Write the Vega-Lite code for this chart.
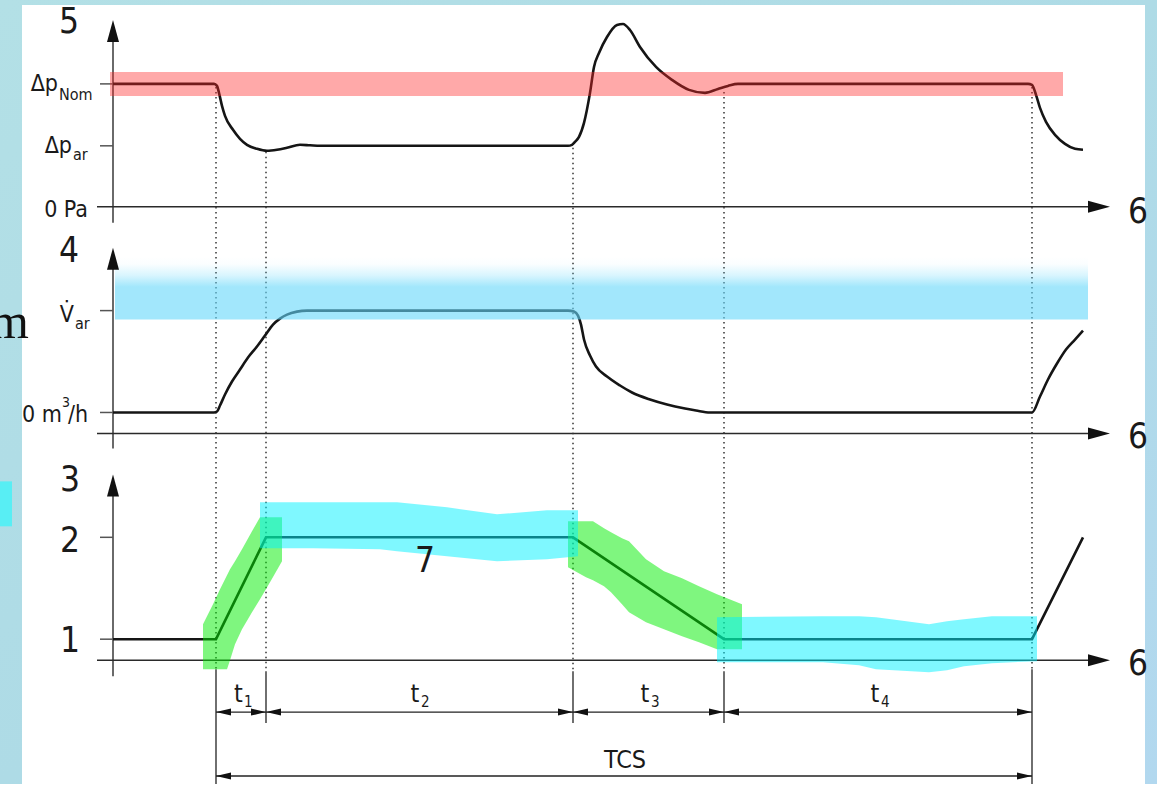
{
  "$schema": "https://vega.github.io/schema/vega-lite/v6.json",
  "width": 1157,
  "height": 785,
  "padding": 0,
  "autosize": {"type": "fit", "contains": "padding"},
  "background": "#ffffff",
  "config": {"view": {"stroke": null}},
  "datasets": {
    "bg": [{"x": 0, "y": 0, "x2": 1157, "y2": 785}],
    "panel": [{"x": 22, "y": 5, "x2": 1145, "y2": 785}],
    "cyanBox": [{"x": 0, "y": 482, "x2": 12, "y2": 527}],
    "mText": [{"x": 29, "y": 338, "t": "m"}],
    "vaxes": [
      {"x": 113, "y": 40, "x2": 113, "y2": 223},
      {"x": 113, "y": 268, "x2": 113, "y2": 449},
      {"x": 113, "y": 495, "x2": 113, "y2": 677}
    ],
    "haxes": [
      {"x": 97, "y": 207, "x2": 1092, "y2": 207},
      {"x": 97, "y": 434, "x2": 1092, "y2": 434},
      {"x": 97, "y": 661, "x2": 1092, "y2": 661}
    ],
    "ticks": [
      {"x": 100, "y": 84, "x2": 113, "y2": 84},
      {"x": 100, "y": 146, "x2": 113, "y2": 146},
      {"x": 100, "y": 311, "x2": 113, "y2": 311},
      {"x": 100, "y": 413, "x2": 113, "y2": 413},
      {"x": 100, "y": 538, "x2": 113, "y2": 538},
      {"x": 100, "y": 640, "x2": 113, "y2": 640}
    ],
    "dots": [
      {"x": 216, "y": 87, "x2": 216, "y2": 670},
      {"x": 266, "y": 152, "x2": 266, "y2": 670},
      {"x": 573, "y": 148, "x2": 573, "y2": 670},
      {"x": 724, "y": 92, "x2": 724, "y2": 670},
      {"x": 1032, "y": 87, "x2": 1032, "y2": 670}
    ],
    "dims": [
      {"x": 216, "y": 670, "x2": 216, "y2": 785},
      {"x": 266, "y": 672, "x2": 266, "y2": 724},
      {"x": 573, "y": 672, "x2": 573, "y2": 724},
      {"x": 724, "y": 672, "x2": 724, "y2": 724},
      {"x": 1032, "y": 670, "x2": 1032, "y2": 785},
      {"x": 216, "y": 713, "x2": 1032, "y2": 713},
      {"x": 216, "y": 777, "x2": 1032, "y2": 777}
    ],
    "curves": [
      {"s": "dp", "x": 113, "y": 84}, {"s": "dp", "x": 200, "y": 84}, {"s": "dp", "x": 214, "y": 84},
      {"s": "dp", "x": 217, "y": 86}, {"s": "dp", "x": 219, "y": 93}, {"s": "dp", "x": 222, "y": 106},
      {"s": "dp", "x": 225, "y": 116}, {"s": "dp", "x": 233, "y": 130}, {"s": "dp", "x": 240, "y": 139},
      {"s": "dp", "x": 247, "y": 145}, {"s": "dp", "x": 257, "y": 149}, {"s": "dp", "x": 267, "y": 151},
      {"s": "dp", "x": 277, "y": 150}, {"s": "dp", "x": 287, "y": 148}, {"s": "dp", "x": 300, "y": 145},
      {"s": "dp", "x": 310, "y": 145.5}, {"s": "dp", "x": 320, "y": 146}, {"s": "dp", "x": 400, "y": 146},
      {"s": "dp", "x": 500, "y": 146}, {"s": "dp", "x": 568, "y": 146}, {"s": "dp", "x": 572, "y": 145},
      {"s": "dp", "x": 575, "y": 142}, {"s": "dp", "x": 579, "y": 137}, {"s": "dp", "x": 584, "y": 123},
      {"s": "dp", "x": 590, "y": 93}, {"s": "dp", "x": 594, "y": 67}, {"s": "dp", "x": 599, "y": 53},
      {"s": "dp", "x": 607, "y": 37}, {"s": "dp", "x": 617, "y": 25}, {"s": "dp", "x": 623, "y": 24},
      {"s": "dp", "x": 630, "y": 30}, {"s": "dp", "x": 640, "y": 47}, {"s": "dp", "x": 656, "y": 67},
      {"s": "dp", "x": 672, "y": 80}, {"s": "dp", "x": 689, "y": 90}, {"s": "dp", "x": 705, "y": 93},
      {"s": "dp", "x": 718, "y": 89}, {"s": "dp", "x": 728, "y": 86}, {"s": "dp", "x": 738, "y": 84},
      {"s": "dp", "x": 800, "y": 84}, {"s": "dp", "x": 1028, "y": 84}, {"s": "dp", "x": 1032, "y": 85},
      {"s": "dp", "x": 1036, "y": 95}, {"s": "dp", "x": 1040, "y": 108}, {"s": "dp", "x": 1046, "y": 122},
      {"s": "dp", "x": 1055, "y": 135}, {"s": "dp", "x": 1065, "y": 144}, {"s": "dp", "x": 1075, "y": 149},
      {"s": "dp", "x": 1083, "y": 150},
      {"s": "v", "x": 113, "y": 413}, {"s": "v", "x": 214, "y": 413}, {"s": "v", "x": 217, "y": 412},
      {"s": "v", "x": 220, "y": 406}, {"s": "v", "x": 225, "y": 395}, {"s": "v", "x": 232, "y": 382},
      {"s": "v", "x": 240, "y": 370}, {"s": "v", "x": 248, "y": 358}, {"s": "v", "x": 257, "y": 347},
      {"s": "v", "x": 265, "y": 336}, {"s": "v", "x": 273, "y": 325}, {"s": "v", "x": 280, "y": 319},
      {"s": "v", "x": 287, "y": 315}, {"s": "v", "x": 297, "y": 312}, {"s": "v", "x": 307, "y": 311},
      {"s": "v", "x": 400, "y": 311}, {"s": "v", "x": 568, "y": 311}, {"s": "v", "x": 574, "y": 312},
      {"s": "v", "x": 578, "y": 316}, {"s": "v", "x": 581, "y": 325}, {"s": "v", "x": 584, "y": 340},
      {"s": "v", "x": 590, "y": 356}, {"s": "v", "x": 596, "y": 367}, {"s": "v", "x": 607, "y": 377},
      {"s": "v", "x": 620, "y": 386}, {"s": "v", "x": 632, "y": 393}, {"s": "v", "x": 650, "y": 400},
      {"s": "v", "x": 667, "y": 405}, {"s": "v", "x": 685, "y": 409}, {"s": "v", "x": 696, "y": 411},
      {"s": "v", "x": 710, "y": 413}, {"s": "v", "x": 724, "y": 413}, {"s": "v", "x": 1000, "y": 413},
      {"s": "v", "x": 1032, "y": 413}, {"s": "v", "x": 1040, "y": 397}, {"s": "v", "x": 1048, "y": 380},
      {"s": "v", "x": 1057, "y": 364}, {"s": "v", "x": 1066, "y": 350}, {"s": "v", "x": 1075, "y": 340},
      {"s": "v", "x": 1083, "y": 331}
    ],
    "steps": [
      {"s": "n", "x": 113, "y": 640}, {"s": "n", "x": 216, "y": 640}, {"s": "n", "x": 266, "y": 538},
      {"s": "n", "x": 573, "y": 538}, {"s": "n", "x": 724, "y": 640}, {"s": "n", "x": 1032, "y": 640},
      {"s": "n", "x": 1083, "y": 538}
    ],
    "red": [{"x": 110, "y": 72, "x2": 1063, "y2": 96}],
    "blue": [{"x": 115, "y": 257, "x2": 1088, "y2": 320}],
    "green": [
      {"band": "g1", "x": 203, "y": 625, "y2": 670}, {"band": "g1", "x": 213, "y": 605, "y2": 670},
      {"band": "g1", "x": 220, "y": 590, "y2": 670}, {"band": "g1", "x": 227, "y": 576, "y2": 670},
      {"band": "g1", "x": 230, "y": 570, "y2": 661}, {"band": "g1", "x": 235, "y": 562, "y2": 645},
      {"band": "g1", "x": 242, "y": 550, "y2": 630}, {"band": "g1", "x": 252, "y": 532, "y2": 613},
      {"band": "g1", "x": 260, "y": 518, "y2": 600}, {"band": "g1", "x": 270, "y": 518, "y2": 583},
      {"band": "g1", "x": 282, "y": 518, "y2": 562},
      {"band": "g2", "x": 568, "y": 522, "y2": 568}, {"band": "g2", "x": 586, "y": 522, "y2": 578},
      {"band": "g2", "x": 593, "y": 522, "y2": 581}, {"band": "g2", "x": 604, "y": 529, "y2": 587},
      {"band": "g2", "x": 611, "y": 533, "y2": 593}, {"band": "g2", "x": 622, "y": 539, "y2": 605},
      {"band": "g2", "x": 629, "y": 542, "y2": 613}, {"band": "g2", "x": 646, "y": 560, "y2": 623},
      {"band": "g2", "x": 664, "y": 572, "y2": 630}, {"band": "g2", "x": 682, "y": 579, "y2": 637},
      {"band": "g2", "x": 699, "y": 587, "y2": 643}, {"band": "g2", "x": 717, "y": 595, "y2": 650},
      {"band": "g2", "x": 742, "y": 605, "y2": 650}
    ],
    "cyan": [
      {"band": "c1", "x": 260, "y": 503, "y2": 549}, {"band": "c1", "x": 313, "y": 503, "y2": 549},
      {"band": "c1", "x": 380, "y": 503, "y2": 550}, {"band": "c1", "x": 397, "y": 503, "y2": 552},
      {"band": "c1", "x": 447, "y": 508, "y2": 557}, {"band": "c1", "x": 497, "y": 515, "y2": 562},
      {"band": "c1", "x": 547, "y": 511, "y2": 560}, {"band": "c1", "x": 578, "y": 511, "y2": 557},
      {"band": "c2", "x": 717, "y": 618, "y2": 663}, {"band": "c2", "x": 823, "y": 617, "y2": 663},
      {"band": "c2", "x": 859, "y": 617, "y2": 666}, {"band": "c2", "x": 876, "y": 618, "y2": 670},
      {"band": "c2", "x": 929, "y": 625, "y2": 673}, {"band": "c2", "x": 947, "y": 622, "y2": 671},
      {"band": "c2", "x": 964, "y": 620, "y2": 667}, {"band": "c2", "x": 992, "y": 617, "y2": 664},
      {"band": "c2", "x": 1037, "y": 617, "y2": 662}
    ],
    "arrows": [
      {"kind": "up", "x": 113, "y": 20}, {"kind": "up", "x": 113, "y": 248}, {"kind": "up", "x": 113, "y": 475},
      {"kind": "right", "x": 1110, "y": 207}, {"kind": "right", "x": 1110, "y": 434}, {"kind": "right", "x": 1110, "y": 661},
      {"kind": "dl", "x": 216, "y": 713}, {"kind": "dl", "x": 266, "y": 713}, {"kind": "dl", "x": 573, "y": 713},
      {"kind": "dl", "x": 724, "y": 713}, {"kind": "dl", "x": 216, "y": 777},
      {"kind": "dr", "x": 266, "y": 713}, {"kind": "dr", "x": 573, "y": 713}, {"kind": "dr", "x": 724, "y": 713},
      {"kind": "dr", "x": 1032, "y": 713}, {"kind": "dr", "x": 1032, "y": 777}
    ],
    "numerals": [
      {"t": "5", "x": 69, "y": 33}, {"t": "4", "x": 69, "y": 262}, {"t": "3", "x": 70, "y": 492},
      {"t": "2", "x": 70, "y": 553}, {"t": "1", "x": 70, "y": 653}, {"t": "7", "x": 425, "y": 573},
      {"t": "6", "x": 1138, "y": 223}, {"t": "6", "x": 1138, "y": 449}, {"t": "6", "x": 1138, "y": 676}
    ],
    "labR": [
      {"t": "Δp", "x": 58, "y": 91}, {"t": "Δp", "x": 72, "y": 153}, {"t": "0 Pa", "x": 88, "y": 217},
      {"t": "V̇", "x": 74, "y": 322}, {"t": "0 m", "x": 62, "y": 423}
    ],
    "labL": [{"t": "/h", "x": 68, "y": 423}],
    "labSub": [
      {"t": "Nom", "x": 59, "y": 100}, {"t": "ar", "x": 73, "y": 160}, {"t": "ar", "x": 75, "y": 329}
    ],
    "labSup": [{"t": "3", "x": 62, "y": 408}],
    "tMain": [
      {"t": "t", "x": 238.5, "y": 703}, {"t": "t", "x": 415, "y": 703}, {"t": "t", "x": 645, "y": 703},
      {"t": "t", "x": 875, "y": 703}, {"t": "TCS", "x": 625, "y": 769}
    ],
    "tSub": [
      {"t": "1", "x": 244, "y": 708}, {"t": "2", "x": 421, "y": 708}, {"t": "3", "x": 651, "y": 708},
      {"t": "4", "x": 881, "y": 708}
    ]
  },
  "encoding": {
    "x": {"field": "x", "type": "quantitative", "scale": {"domain": [0, 1157], "nice": false, "zero": false}, "axis": null},
    "y": {"field": "y", "type": "quantitative", "scale": {"domain": [0, 785], "nice": false, "zero": false, "reverse": true}, "axis": null}
  },
  "layer": [
    {
      "data": {"name": "bg"},
      "mark": {"type": "rect", "fill": {"gradient": "linear", "x1": 0, "y1": 0, "x2": 1, "y2": 1, "stops": [
        {"offset": 0, "color": "#b3e0e6"}, {"offset": 0.5, "color": "#aedbe6"}, {"offset": 1, "color": "#b2d8ef"}]}},
      "encoding": {"x2": {"field": "x2"}, "y2": {"field": "y2"}}
    },
    {
      "data": {"name": "panel"},
      "mark": {"type": "rect", "fill": "#ffffff"},
      "encoding": {"x2": {"field": "x2"}, "y2": {"field": "y2"}}
    },
    {
      "data": {"name": "cyanBox"},
      "mark": {"type": "rect", "fill": "#58eef4"},
      "encoding": {"x2": {"field": "x2"}, "y2": {"field": "y2"}}
    },
    {
      "data": {"name": "mText"},
      "mark": {"type": "text", "clip": true, "font": "Liberation Serif", "fontSize": 50, "align": "right", "baseline": "alphabetic", "color": "#111111"},
      "encoding": {"text": {"field": "t"}}
    },
    {
      "data": {"name": "vaxes"},
      "mark": {"type": "rule", "color": "#6a6a6a", "strokeWidth": 2},
      "encoding": {"x2": {"field": "x2"}, "y2": {"field": "y2"}}
    },
    {
      "data": {"name": "haxes"},
      "mark": {"type": "rule", "color": "#2a2a2a", "strokeWidth": 1.5},
      "encoding": {"x2": {"field": "x2"}, "y2": {"field": "y2"}}
    },
    {
      "data": {"name": "ticks"},
      "mark": {"type": "rule", "color": "#555555", "strokeWidth": 1.5},
      "encoding": {"x2": {"field": "x2"}, "y2": {"field": "y2"}}
    },
    {
      "data": {"name": "dots"},
      "mark": {"type": "rule", "color": "#333333", "strokeWidth": 1.5, "strokeDash": [1.5, 3.5]},
      "encoding": {"x2": {"field": "x2"}, "y2": {"field": "y2"}}
    },
    {
      "data": {"name": "dims"},
      "mark": {"type": "rule", "color": "#222222", "strokeWidth": 1.3},
      "encoding": {"x2": {"field": "x2"}, "y2": {"field": "y2"}}
    },
    {
      "data": {"name": "curves"},
      "mark": {"type": "line", "interpolate": "monotone", "color": "#151515", "strokeWidth": 2.6},
      "encoding": {"detail": {"field": "s"}}
    },
    {
      "data": {"name": "steps"},
      "mark": {"type": "line", "color": "#151515", "strokeWidth": 2.6},
      "encoding": {"detail": {"field": "s"}}
    },
    {
      "data": {"name": "red"},
      "mark": {"type": "rect", "fill": "#ff2828", "opacity": 0.4},
      "encoding": {"x2": {"field": "x2"}, "y2": {"field": "y2"}}
    },
    {
      "data": {"name": "blue"},
      "mark": {"type": "rect", "fill": {"gradient": "linear", "x1": 0, "y1": 0, "x2": 0, "y2": 1, "stops": [
        {"offset": 0, "color": "rgba(100,215,250,0)"},
        {"offset": 0.12, "color": "rgba(100,215,250,0.03)"},
        {"offset": 0.3, "color": "rgba(100,215,250,0.25)"},
        {"offset": 0.48, "color": "rgba(100,215,250,0.6)"},
        {"offset": 1, "color": "rgba(100,215,250,0.6)"}]}},
      "encoding": {"x2": {"field": "x2"}, "y2": {"field": "y2"}}
    },
    {
      "data": {"name": "green"},
      "mark": {"type": "area", "color": "#00ee00", "opacity": 0.5},
      "encoding": {
        "y": {"field": "y", "type": "quantitative", "stack": null, "scale": {"domain": [0, 785], "nice": false, "zero": false, "reverse": true}, "axis": null},
        "y2": {"field": "y2"},
        "detail": {"field": "band"}
      }
    },
    {
      "data": {"name": "cyan"},
      "mark": {"type": "area", "color": "#00f2ff", "opacity": 0.5},
      "encoding": {
        "y": {"field": "y", "type": "quantitative", "stack": null, "scale": {"domain": [0, 785], "nice": false, "zero": false, "reverse": true}, "axis": null},
        "y2": {"field": "y2"},
        "detail": {"field": "band"}
      }
    },
    {
      "data": {"name": "arrows"},
      "mark": {"type": "point", "filled": true, "opacity": 1, "color": "#111111", "size": 100, "strokeWidth": 0},
      "encoding": {
        "shape": {"field": "kind", "type": "nominal", "legend": null, "scale": {
          "domain": ["up", "right", "dl", "dr"],
          "range": ["M0,0L-1.2,4.4L1.2,4.4Z", "M0,0L-4.4,-1.2L-4.4,1.2Z", "M0,0L3,-0.7L3,0.7Z", "M0,0L-3,-0.7L-3,0.7Z"]}}
      }
    },
    {
      "data": {"name": "numerals"},
      "mark": {"type": "text", "font": "DejaVu Sans Condensed, DejaVu Sans", "fontSize": 35, "align": "center", "baseline": "alphabetic", "color": "#1a1a1a"},
      "encoding": {"text": {"field": "t"}}
    },
    {
      "data": {"name": "labR"},
      "mark": {"type": "text", "font": "DejaVu Sans Condensed, DejaVu Sans", "fontSize": 23, "align": "right", "baseline": "alphabetic", "color": "#1a1a1a"},
      "encoding": {"text": {"field": "t"}}
    },
    {
      "data": {"name": "labL"},
      "mark": {"type": "text", "font": "DejaVu Sans Condensed, DejaVu Sans", "fontSize": 23, "align": "left", "baseline": "alphabetic", "color": "#1a1a1a"},
      "encoding": {"text": {"field": "t"}}
    },
    {
      "data": {"name": "labSub"},
      "mark": {"type": "text", "font": "DejaVu Sans Condensed, DejaVu Sans", "fontSize": 16, "align": "left", "baseline": "alphabetic", "color": "#1a1a1a"},
      "encoding": {"text": {"field": "t"}}
    },
    {
      "data": {"name": "labSup"},
      "mark": {"type": "text", "font": "DejaVu Sans Condensed, DejaVu Sans", "fontSize": 14, "align": "left", "baseline": "alphabetic", "color": "#1a1a1a"},
      "encoding": {"text": {"field": "t"}}
    },
    {
      "data": {"name": "tMain"},
      "mark": {"type": "text", "font": "DejaVu Sans Condensed, DejaVu Sans", "fontSize": 25, "align": "center", "baseline": "alphabetic", "color": "#1a1a1a"},
      "encoding": {"text": {"field": "t"}}
    },
    {
      "data": {"name": "tSub"},
      "mark": {"type": "text", "font": "DejaVu Sans Condensed, DejaVu Sans", "fontSize": 15, "align": "left", "baseline": "alphabetic", "color": "#1a1a1a"},
      "encoding": {"text": {"field": "t"}}
    }
  ]
}
